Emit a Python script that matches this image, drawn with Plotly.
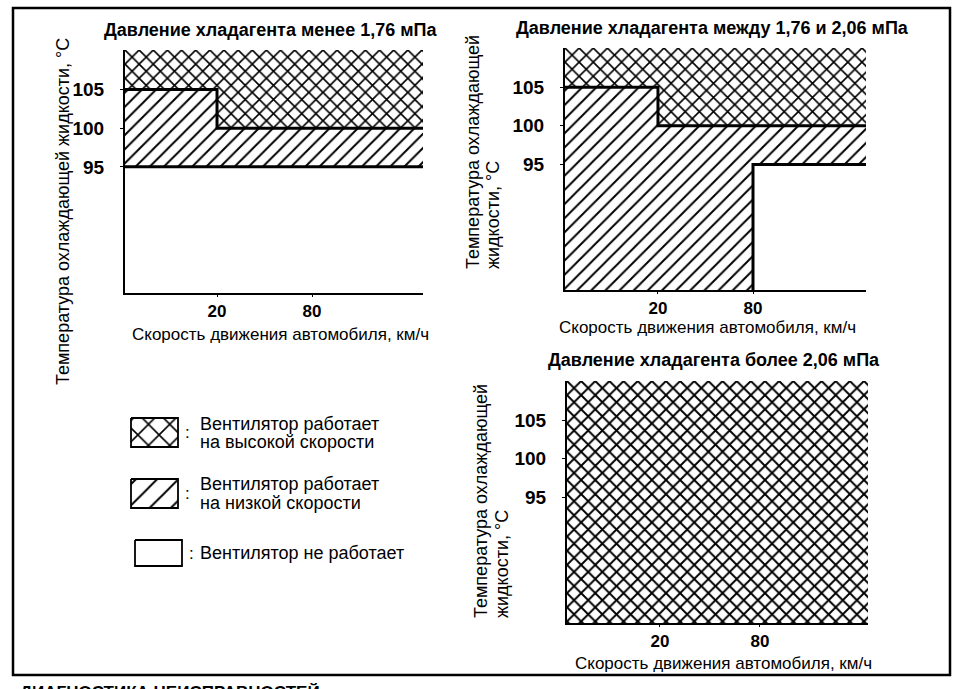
import plotly.graph_objects as go

# Canvas size
W, H = 960, 689

# Axis ticks (same on every panel)
TEMP_TICKS = [95, 100, 105]
SPEED_TICKS = [20, 80]

# Limits beyond the visible axes, used to close the shaded regions
SPEED_LO, SPEED_HI = 1, 1000
TEMP_LO, TEMP_HI = 60, 150

# Panel 1: pressure below 1.76 MPa
p1_high_x = [SPEED_LO, 20, 20, SPEED_HI]
p1_high_y = [105, 105, 100, 100]
p1_off_x = [SPEED_LO, SPEED_HI]
p1_off_y = [95, 95]

# Panel 2: pressure between 1.76 and 2.06 MPa
p2_high_x = [SPEED_LO, 20, 20, SPEED_HI]
p2_high_y = [105, 105, 100, 100]
p2_off_x = [SPEED_LO, 80, 80, SPEED_HI]
p2_off_y = [TEMP_LO, TEMP_LO, 95, 95]

# Panel 3: pressure above 2.06 MPa (fan always on high speed)
p3_high_x = [SPEED_LO, SPEED_HI, SPEED_HI, SPEED_LO]
p3_high_y = [TEMP_LO, TEMP_LO, TEMP_HI, TEMP_HI]

TITLES = ["Давление хладагента менее 1,76 мПа",
          "Давление хладагента между 1,76 и 2,06 мПа",
          "Давление хладагента более 2,06 мПа"]
X_TITLE = "Скорость движения автомобиля, км/ч"
Y_TITLE = "Температура охлаждающей жидкости, °С"
Y_TITLE_LINES = ["Температура охлаждающей", "жидкости, °С"]
LEGEND_LABELS = [["Вентилятор работает", "на высокой скорости"],
                 ["Вентилятор работает", "на низкой скорости"],
                 ["Вентилятор не работает"]]
LEGEND_SHAPES = ["x", "/", ""]

FONT = "Liberation Sans Narrow, Arial Narrow, Liberation Sans, Arial, sans-serif"


def px_x(x):
    return x / W


def px_y(y):
    return 1 - y / H


def pattern(shape, size=10, solidity=0.3):
    return dict(shape=shape, size=size, solidity=solidity, fgcolor="black",
                bgcolor="white", fillmode="replace")


def ax_id(i):
    return "" if i == 1 else str(i)


def label(text, x, y, size=18, bold=False, **kw):
    kw.setdefault("xanchor", "center")
    kw.setdefault("yanchor", "middle")
    fig.add_annotation(x=px_x(x), y=px_y(y), xref="paper", yref="paper",
                       text=text, showarrow=False,
                       font=dict(family=FONT, size=size, color="black",
                                 weight="bold" if bold else "normal"), **kw)


fig = go.Figure()

# Panel layout in pixels: (left, right, top, bottom, log-x range)
panels = [
    (125, 423, 50, 293, [0.718, 2.606]),
    (565, 866, 48, 290, [0.712, 2.619]),
    (567, 868, 381, 623, [0.741, 2.554]),
]
y_range = [78.7, 110.1]


def add_area(xs, ys, shape, idx, size=10, solidity=0.3):
    fig.add_trace(go.Scatter(
        x=xs, y=ys, mode="lines", fill="toself", line=dict(width=0),
        fillcolor="white", fillpattern=pattern(shape, size, solidity),
        xaxis="x" + ax_id(idx), yaxis="y" + ax_id(idx),
        hoverinfo="skip", showlegend=False))


def add_edge(xs, ys, idx):
    fig.add_trace(go.Scatter(
        x=xs, y=ys, mode="lines", line=dict(color="black", width=3),
        xaxis="x" + ax_id(idx), yaxis="y" + ax_id(idx),
        hoverinfo="skip", showlegend=False))


# Panel 1 regions
add_area(p1_high_x + [SPEED_HI, SPEED_LO], p1_high_y + [TEMP_HI, TEMP_HI], "x", 1)
add_area(p1_high_x + p1_off_x[::-1], p1_high_y + p1_off_y[::-1], "/", 1, solidity=0.2)
add_edge(p1_high_x, p1_high_y, 1)
add_edge(p1_off_x, p1_off_y, 1)

# Panel 2 regions
add_area(p2_high_x + [SPEED_HI, SPEED_LO], p2_high_y + [TEMP_HI, TEMP_HI], "x", 2)
add_area(p2_high_x + p2_off_x[::-1], p2_high_y + p2_off_y[::-1], "/", 2, solidity=0.2)
add_edge(p2_high_x, p2_high_y, 2)
add_edge(p2_off_x, p2_off_y, 2)

# Panel 3 region
add_area(p3_high_x, p3_high_y, "x", 3, size=10, solidity=0.35)

layout = {}
for i, (l, r, t, b, xr) in enumerate(panels, start=1):
    sx = ax_id(i)
    layout["xaxis" + sx] = dict(
        domain=[px_x(l), px_x(r)], anchor="y" + sx, type="log", range=xr,
        tickvals=SPEED_TICKS, ticktext=[str(v) for v in SPEED_TICKS],
        showline=True, linecolor="black", linewidth=2, showgrid=False,
        zeroline=False, ticks="outside", ticklen=2, tickcolor="black",
        tickfont=dict(family=FONT, size=17, color="black", weight="bold"))
    layout["yaxis" + sx] = dict(
        domain=[px_y(b), px_y(t)], anchor="x" + sx, range=y_range,
        tickvals=TEMP_TICKS, showline=True, linecolor="black", linewidth=2,
        showgrid=False, zeroline=False, ticks="outside", ticklen=3,
        tickcolor="black", ticklabelstandoff=12,
        tickfont=dict(family=FONT, size=19, color="black", weight="bold"))

# Overlay axis in pixel units for the hand-drawn legend
layout["xaxis4"] = dict(domain=[0, 1], range=[0, W], visible=False, anchor="y4")
layout["yaxis4"] = dict(domain=[0, 1], range=[H, 0], visible=False, anchor="x4")

fig.update_layout(**layout)

# Legend swatches
for i, (lines, shape) in enumerate(zip(LEGEND_LABELS, LEGEND_SHAPES)):
    left, top = 131 + (4 if shape == "" else 0), 418 + i * 61
    w, h = 47, 29 if shape else 26
    xs = [left, left + w, left + w, left, left]
    ys = [top, top, top + h, top + h, top]
    trace = go.Scatter(
        x=xs, y=ys, mode="lines", fill="toself",
        line=dict(color="black", width=1.8), fillcolor="white",
        xaxis="x4", yaxis="y4", hoverinfo="skip", showlegend=False)
    if shape:
        trace.fillpattern = pattern(shape, 15, 0.2 if shape == "x" else 0.13)
    fig.add_trace(trace)
    label(":", left + w + 9, top + h / 2, size=17)
    first = top + h / 2 - 9 * (len(lines) - 1)
    for j, line in enumerate(lines):
        label(line, 198, first + 18 * j, size=18, xanchor="left")

# Panel titles
for text, (cx, cy) in zip(TITLES, [(270, 30), (712, 28), (714, 360)]):
    label(text, cx, cy, size=18, bold=True)

# X axis titles
for cx, cy in [(280, 334), (707, 327), (723, 663)]:
    label(X_TITLE, cx, cy, size=17)

# Y axis titles
label(Y_TITLE, 63, 212, size=18, textangle=-90)
for (x1, x2), by in [((473, 493), 271), ((481, 502), 620)]:
    for cx, line in zip((x1, x2), Y_TITLE_LINES):
        label(line, cx, by, size=18, textangle=-90, yanchor="bottom")

# Outer frame and the page header cut off at the bottom
fig.add_shape(type="rect", xref="paper", yref="paper",
              x0=px_x(13), x1=px_x(950), y0=px_y(675), y1=px_y(8),
              line=dict(color="black", width=2.5))
label("ДИАГНОСТИКА НЕИСПРАВНОСТЕЙ", 18, 681, size=17, bold=True,
      xanchor="left", yanchor="top")

fig.update_layout(width=W, height=H, margin=dict(l=0, r=0, t=0, b=0),
                  paper_bgcolor="white", plot_bgcolor="rgba(0,0,0,0)",
                  showlegend=False)

# Drop the page's default body margin so the figure sits at the window corner
fig.write_html("out.html", config={"displayModeBar": False},
               post_script="document.body.style.margin = '0';")
